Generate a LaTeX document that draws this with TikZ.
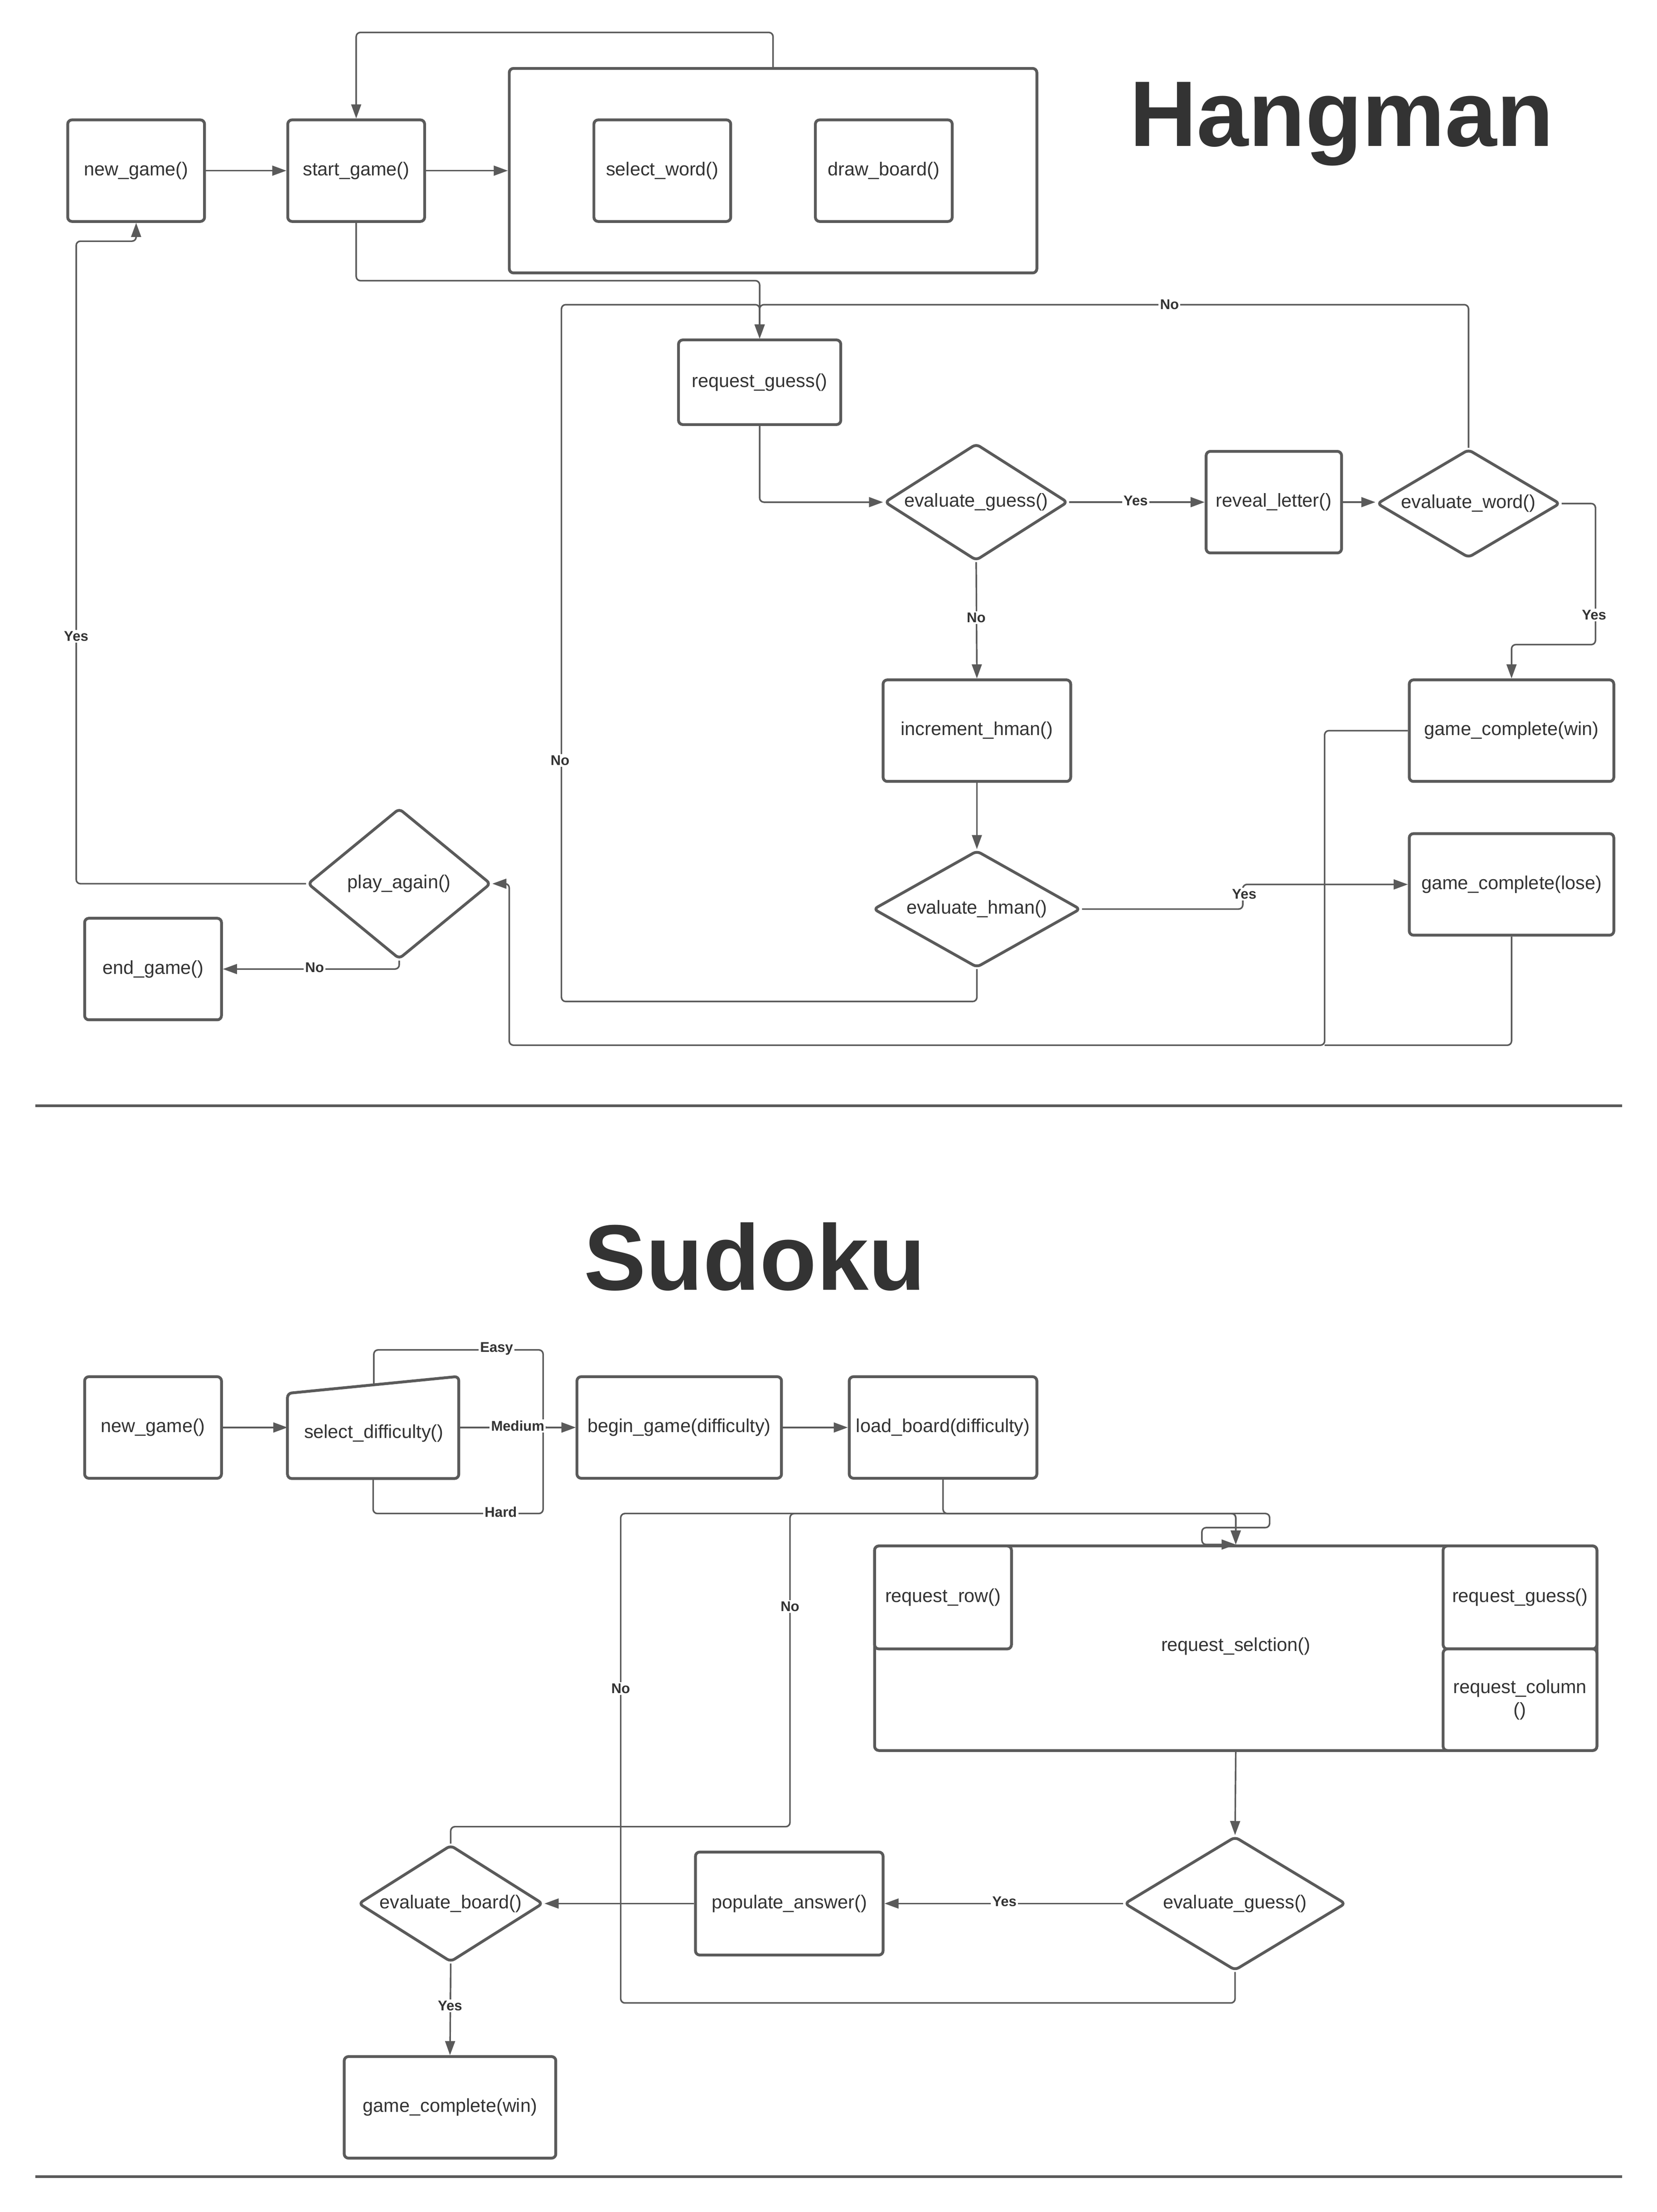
\documentclass[tikz,border=0pt]{standalone}
\usepackage{fontspec}
\setmainfont{Liberation Sans}
\usetikzlibrary{arrows.meta,shapes.geometric,calc}
\definecolor{lc}{HTML}{5A5A5A}
\definecolor{tc}{HTML}{333333}
\begin{document}
\begin{tikzpicture}[x=1bp,y=-1bp,
  every node/.style={text=tc},
  box/.style={draw=lc, line width=2bp, rounded corners=3bp, fill=white, inner sep=2bp, font=\fontsize{13.3bp}{16bp}\selectfont, minimum width=97bp, minimum height=72bp},
  dia/.style={diamond, draw=lc, line width=2bp, rounded corners=3bp, fill=white, inner sep=0pt, font=\fontsize{13.3bp}{16bp}\selectfont},
  conn/.style={draw=lc, line width=1.1bp, rounded corners=3bp},
  arr/.style={conn, -{Triangle[length=10bp,width=7bp]}},
  lbl/.style={fill=white, inner sep=1bp, font=\bfseries\fontsize{10bp}{12bp}\selectfont},
  sep/.style={draw=lc, line width=2bp},
  ttl/.style={font=\bfseries\fontsize{66bp}{70bp}\selectfont}
]
\fill[white] (0,0) rectangle (1174.6,1568.2);
\useasboundingbox (0,0) rectangle (1174.6,1568.2);

% ================= Hangman =================
\node[ttl] (htitle) at (951,88) {Hangman};

\node[box] (hnew) at (96.5,121) {new\_game()};
\node[box] (hstart) at (252.5,121) {start\_game()};
\node[box, minimum width=374bp, minimum height=145bp] (hcont) at (548,121) {};
\node[box] (hsel) at (469.5,121) {select\_word()};
\node[box] (hdraw) at (626.5,121) {draw\_board()};
\node[box, minimum width=115bp, minimum height=60bp] (hreq) at (538.5,271) {request\_guess()};
\node[dia, minimum width=130bp, minimum height=83bp, aspect=1.57] (hevg) at (692,356) {evaluate\_guess()};
\node[box, minimum width=96bp] (hrev) at (903,356) {reveal\_letter()};
\node[dia, minimum width=130bp, minimum height=77bp, aspect=1.69] (hevw) at (1041,357) {evaluate\_word()};
\node[box, minimum width=145bp] (hwin) at (1071.5,518) {game\_complete(win)};
\node[box, minimum width=133bp] (hinc) at (692.5,518) {increment\_hman()};
\node[dia, minimum width=147bp, minimum height=83bp, aspect=1.77] (hevh) at (692.5,644.5) {evaluate\_hman()};
\node[box, minimum width=145bp] (hlose) at (1071.5,627) {game\_complete(lose)};
\node[dia, minimum width=130bp, minimum height=107bp, aspect=1.21] (hplay) at (283,626.5) {play\_again()};
\node[box] (hend) at (108.5,687) {end\_game()};

\draw[arr] (hnew.east) -- (hstart.west);
\draw[arr] (hstart.east) -- (hcont.west |- hstart.east);
\draw[arr] (hcont.north) |- (252.5,23) -- (hstart.north);
\draw[arr] (hstart.south) |- (538.5,199) -- (hreq.north);
\draw[arr] (hreq.south) |- (hevg.west);
\draw[arr] (hevg.east) -- (hrev.west |- hevg.east);
\draw[arr] (hrev.east) -- (hevw.west |- hrev.east);
\draw[arr] (hevw.north) |- (538.5,216) -- (hreq.north);
\draw[arr] (hevh.south) |- (398,710) |- (538.5,216) -- (hreq.north);
\draw[arr] (hevw.east) -| (1131,457) -| (hwin.north);
\draw[arr] (hevg.south) -- (hinc.north);
\draw[arr] (hinc.south) -- (hevh.north);
\draw[arr] (hevh.east) -| (881,627) -- (hlose.west);
\draw[arr] (hwin.west) -| (939,741) -| (361,626.5) -- (hplay.east);
\draw[conn] (hlose.south) |- (939,741);
\draw[arr] (hplay.west) -| (54,171) -| (hnew.south);
\draw[arr] (hplay.south) |- (hend.east);

\node[lbl] (hl1) at (805,355) {Yes};
\node[lbl] (hl2) at (829,216) {No};
\node[lbl] (hl3) at (692,438) {No};
\node[lbl] (hl4) at (397,539) {No};
\node[lbl] (hl5) at (1130,436) {Yes};
\node[lbl] (hl6) at (882,634) {Yes};
\node[lbl] (hl7) at (54,451) {Yes};
\node[lbl] (hl8) at (223,686) {No};

\draw[sep] (25,784) coordinate (sepa1) -- (1150,784) coordinate (sepa2);

% ================= Sudoku =================
\node[ttl] (stitle) at (535,891) {Sudoku};

\node[box] (snew) at (108.5,1012) {new\_game()};
\node[minimum width=121bp, minimum height=72bp, inner sep=0pt] (ssel) at (264.5,1012) {};
\draw[draw=lc, line width=2bp, rounded corners=3bp, fill=white]
  (ssel.south west) -- ($(ssel.north west)+(0,12)$) -- (ssel.north east) -- (ssel.south east) -- cycle;
\node[font=\fontsize{13.3bp}{16bp}\selectfont] (sseltxt) at (265,1016) {select\_difficulty()};
\coordinate (sseltop) at (265,982);
\node[box, minimum width=145bp] (sbegin) at (481.5,1012) {begin\_game(difficulty)};
\node[box, minimum width=133bp] (sload) at (668.5,1012) {load\_board(difficulty)};

\draw[arr] (snew.east) -- (ssel.west);
\draw[arr] (sseltop) |- (385,957) |- (sbegin.west);
\draw[arr] (ssel.south) |- (385,1073) |- (sbegin.west);
\draw[arr] (ssel.east) -- (sbegin.west);
\draw[arr] (sbegin.east) -- (sload.west);

\node[box, minimum width=512bp, minimum height=145bp] (srs) at (876,1168.5) {};
\node[font=\fontsize{13.3bp}{16bp}\selectfont] (srstxt) at (876,1167) {request\_selction()};
\node[box, minimum height=73bp] (srow) at (668.5,1132.5) {request\_row()};
\node[box, minimum width=109bp, minimum height=73bp] (sguess) at (1077.5,1132.5) {request\_guess()};
\node[box, minimum width=109bp, minimum height=72bp, align=center] (scol) at (1077.5,1205) {request\_column\\()};

\node[dia, minimum width=157bp, minimum height=95bp, aspect=1.65] (sevg) at (875.5,1349.5) {evaluate\_guess()};
\node[box, minimum width=133bp, minimum height=73bp] (spop) at (559.5,1349.5) {populate\_answer()};
\node[dia, minimum width=131bp, minimum height=83bp, aspect=1.58] (sevb) at (319.5,1349.5) {evaluate\_board()};
\node[box, minimum width=150bp] (swin) at (319,1494) {game\_complete(win)};

\draw[arr] (sload.south) |- (876,1073) -- (srs.north);
\draw[arr] (srs.south) -- (sevg.north);
\draw[arr] (sevg.west) -- (spop.east);
\draw[arr] (spop.west) -- (sevb.east);
\draw[arr] (sevb.south) -- (swin.north);
\draw[arr] (sevg.south) |- (440,1420) |- (900,1073) |- (852,1083) |- (srs.north);
\draw[arr] (sevb.north) |- (560,1295) |- (876,1073) -- (srs.north);

\node[lbl] (sl1) at (352,956) {Easy};
\node[lbl] (sl2) at (367,1011) {Medium};
\node[lbl] (sl3) at (355,1072) {Hard};
\node[lbl] (sl4) at (560,1139) {No};
\node[lbl] (sl5) at (440,1197) {No};
\node[lbl] (sl6) at (712,1348) {Yes};
\node[lbl] (sl7) at (319,1422) {Yes};

\draw[sep] (25,1543) coordinate (sepb1) -- (1150,1543) coordinate (sepb2);
\end{tikzpicture}
\end{document}
